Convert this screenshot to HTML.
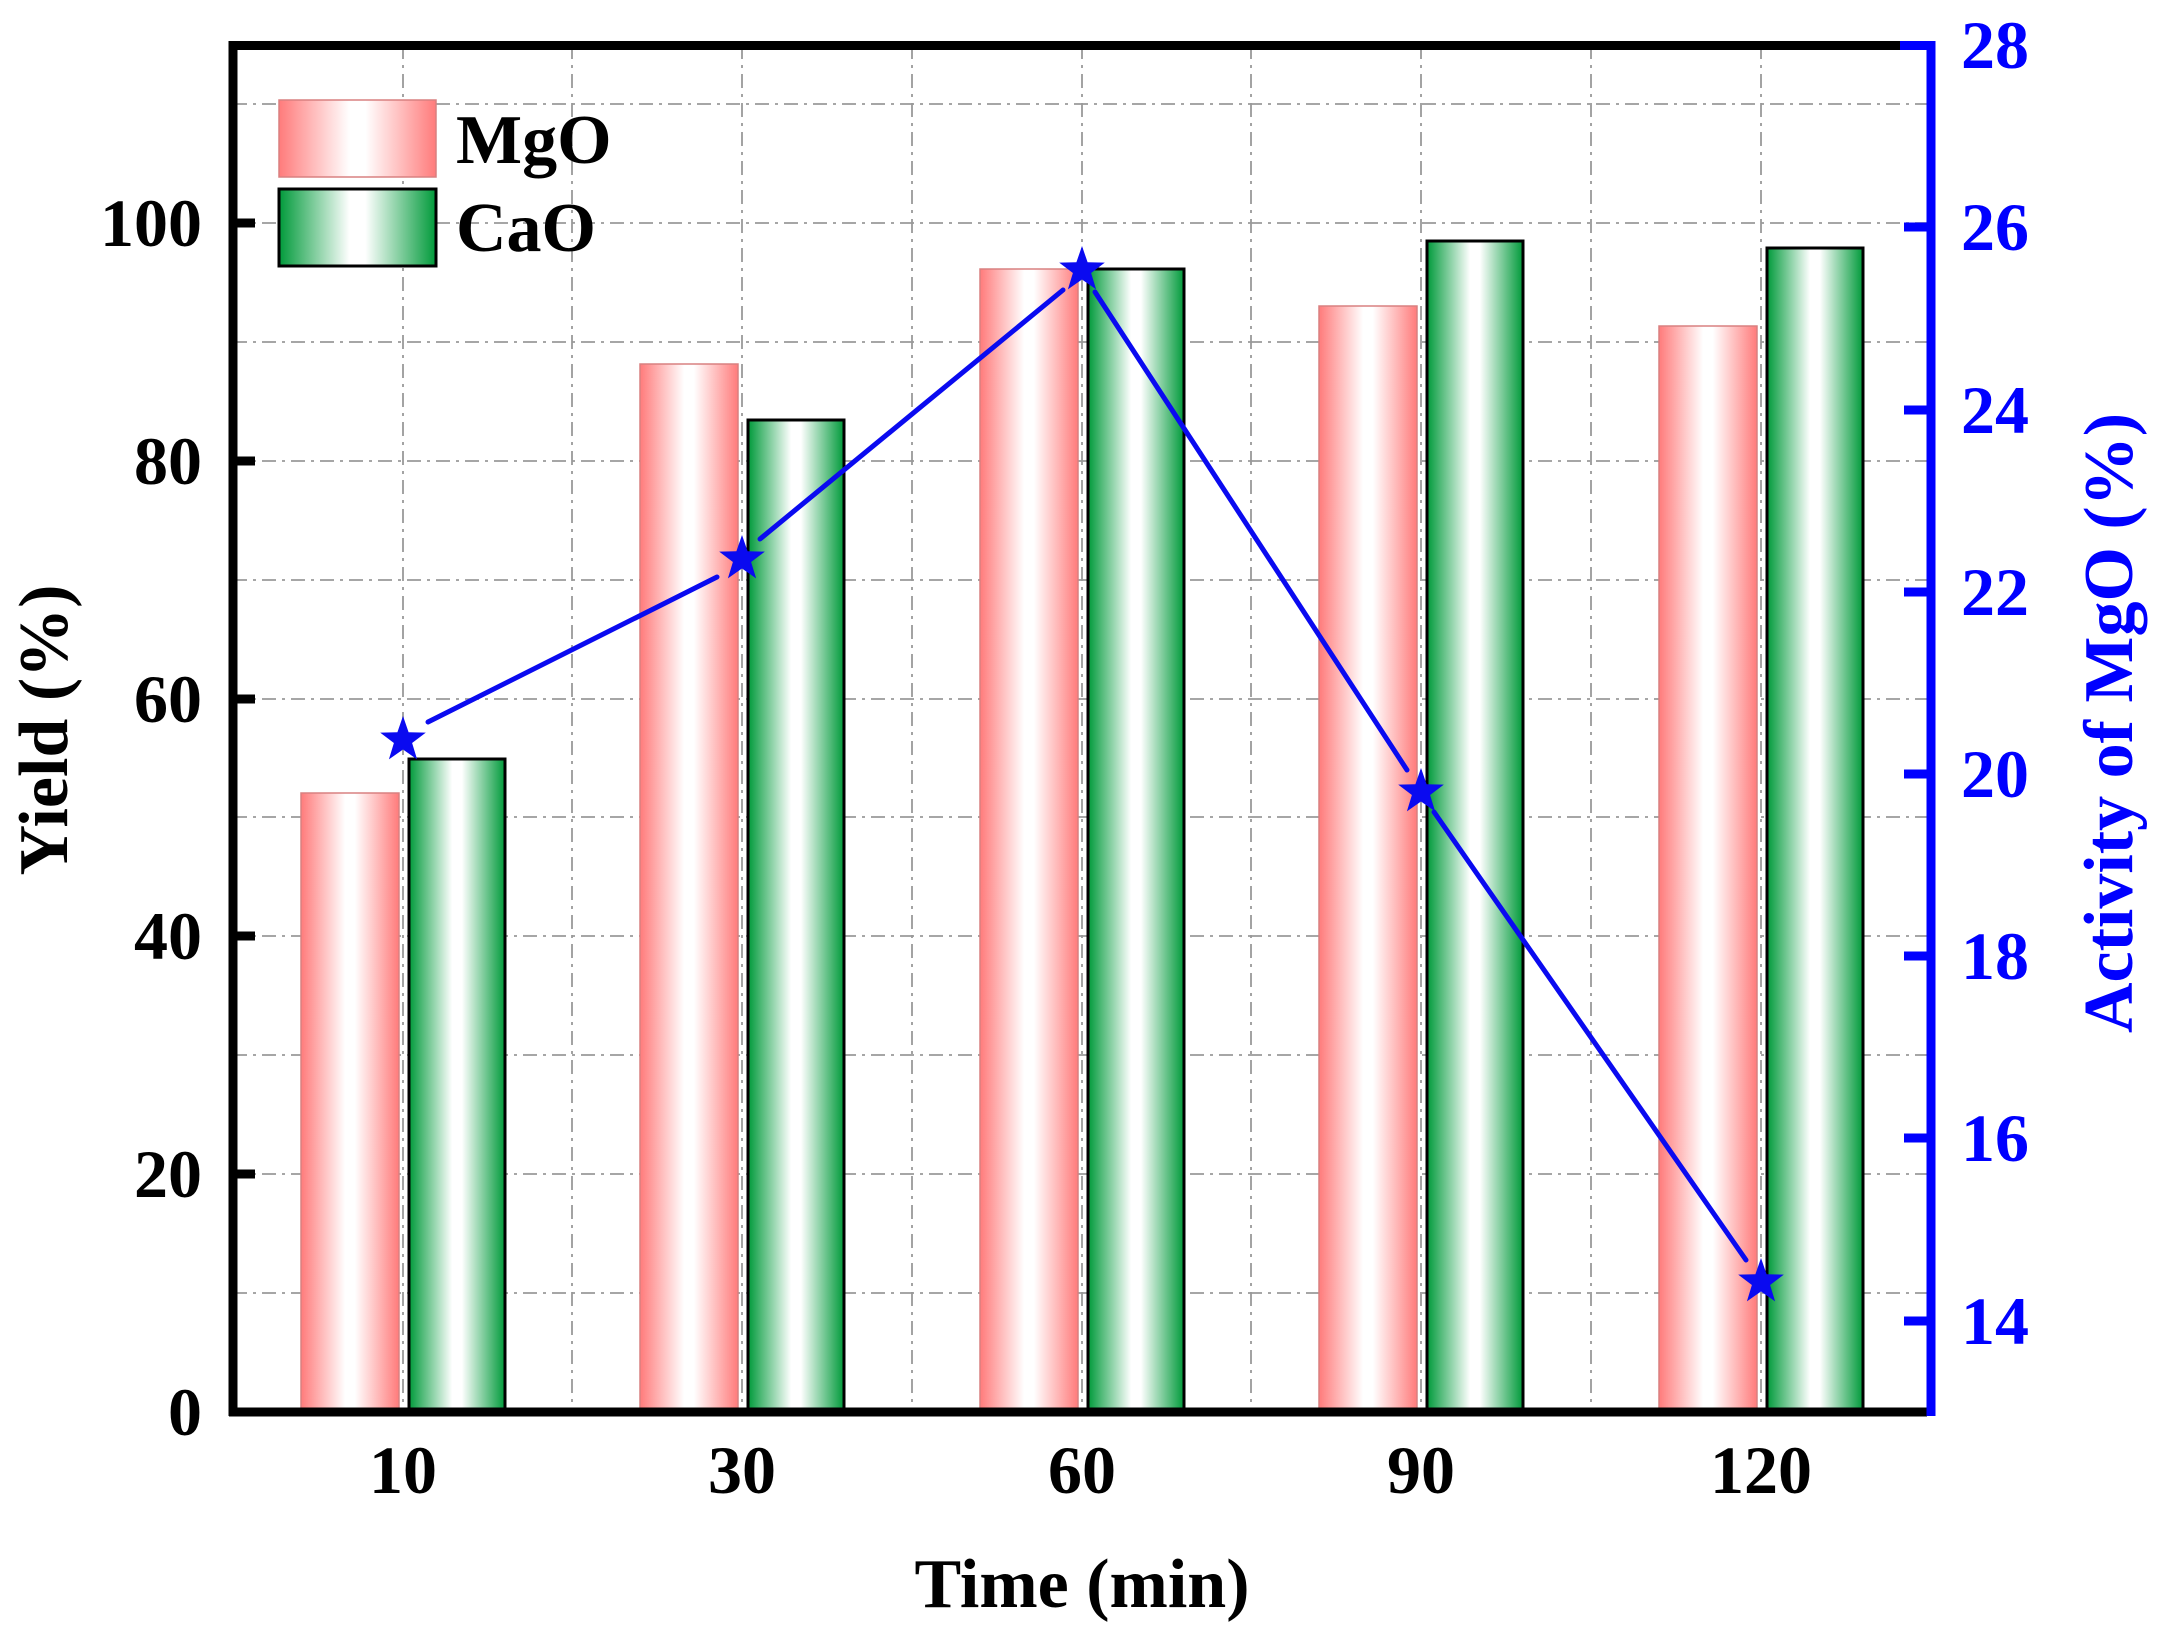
<!DOCTYPE html>
<html><head><meta charset="utf-8"><style>html,body{margin:0;padding:0;background:#fff}svg{display:block}</style></head>
<body>
<svg width="2160" height="1645" viewBox="0 0 2160 1645" xmlns="http://www.w3.org/2000/svg" font-family="Liberation Serif, serif" font-weight="bold">
<defs>
<linearGradient id="gr" x1="0" x2="1" y1="0" y2="0">
<stop offset="0" stop-color="#ff7b7b"/><stop offset="0.45" stop-color="#ffffff"/><stop offset="0.55" stop-color="#ffffff"/><stop offset="1" stop-color="#ff7b7b"/>
</linearGradient>
<linearGradient id="gg" x1="0" x2="1" y1="0" y2="0">
<stop offset="0" stop-color="#009a3a"/><stop offset="0.45" stop-color="#ffffff"/><stop offset="0.55" stop-color="#ffffff"/><stop offset="1" stop-color="#009a3a"/>
</linearGradient>
</defs>
<rect width="2160" height="1645" fill="#fff"/>
<g stroke="#999" stroke-width="1.8" stroke-dasharray="14,6,3,6" fill="none">
<path d="M233 1293H1931M233 1174H1931M233 1055H1931M233 936H1931M233 817H1931M233 699H1931M233 580H1931M233 461H1931M233 342H1931M233 223H1931M233 104H1931"/>
<path d="M403 45V1412M572 45V1412M742 45V1412M912 45V1412M1082 45V1412M1251 45V1412M1421 45V1412M1591 45V1412M1761 45V1412"/>
</g>
<g>
<rect x="301" y="793" width="98" height="619" fill="url(#gr)" stroke="#d98080" stroke-width="1.5"/>
<rect x="409" y="759" width="96" height="653" fill="url(#gg)" stroke="#000" stroke-width="3"/>
<rect x="640" y="364" width="98" height="1048" fill="url(#gr)" stroke="#d98080" stroke-width="1.5"/>
<rect x="748" y="420" width="96" height="992" fill="url(#gg)" stroke="#000" stroke-width="3"/>
<rect x="980" y="269" width="98" height="1143" fill="url(#gr)" stroke="#d98080" stroke-width="1.5"/>
<rect x="1088" y="269" width="96" height="1143" fill="url(#gg)" stroke="#000" stroke-width="3"/>
<rect x="1319" y="306" width="98" height="1106" fill="url(#gr)" stroke="#d98080" stroke-width="1.5"/>
<rect x="1427" y="241" width="96" height="1171" fill="url(#gg)" stroke="#000" stroke-width="3"/>
<rect x="1659" y="326" width="98" height="1086" fill="url(#gr)" stroke="#d98080" stroke-width="1.5"/>
<rect x="1767" y="248" width="96" height="1164" fill="url(#gg)" stroke="#000" stroke-width="3"/>
</g>
<g stroke="#0a0af0" stroke-width="5" stroke-linecap="round" fill="none">
<line x1="428" y1="722" x2="717" y2="577"/>
<line x1="760" y1="539" x2="1063" y2="290"/>
<line x1="1095" y1="292" x2="1407" y2="770"/>
<line x1="1434" y1="812" x2="1746" y2="1260"/>
</g>
<g fill="#0a0af0">
<polygon points="0,-24 5.6,-7.7 22.8,-7.4 9.1,3 14.1,19.4 0,9.5 -14.1,19.4 -9.1,3 -22.8,-7.4 -5.6,-7.7" transform="translate(403,740)"/>
<polygon points="0,-24 5.6,-7.7 22.8,-7.4 9.1,3 14.1,19.4 0,9.5 -14.1,19.4 -9.1,3 -22.8,-7.4 -5.6,-7.7" transform="translate(742,559)"/>
<polygon points="0,-24 5.6,-7.7 22.8,-7.4 9.1,3 14.1,19.4 0,9.5 -14.1,19.4 -9.1,3 -22.8,-7.4 -5.6,-7.7" transform="translate(1082,270)"/>
<polygon points="0,-24 5.6,-7.7 22.8,-7.4 9.1,3 14.1,19.4 0,9.5 -14.1,19.4 -9.1,3 -22.8,-7.4 -5.6,-7.7" transform="translate(1421,792)"/>
<polygon points="0,-24 5.6,-7.7 22.8,-7.4 9.1,3 14.1,19.4 0,9.5 -14.1,19.4 -9.1,3 -22.8,-7.4 -5.6,-7.7" transform="translate(1761,1282)"/>
</g>
<rect x="279" y="100" width="157" height="77" fill="url(#gr)" stroke="#d98080" stroke-width="1.5"/>
<rect x="279" y="189" width="157" height="77" fill="url(#gg)" stroke="#000" stroke-width="3"/>
<text x="456" y="163" font-size="70">MgO</text>
<text x="456" y="251" font-size="70">CaO</text>
<g stroke="#000" stroke-width="9" fill="none">
<path d="M229 45.5H1927M233 41V1416M229 1412H1927"/>
<path d="M233 1174H255M233 936H255M233 699H255M233 461H255M233 223H255"/>
</g>
<g stroke="#0000ff" stroke-width="9" fill="none">
<path d="M1931 41V1416M1900 45.5H1931M1904 227H1931M1904 410H1931M1904 592H1931M1904 774H1931M1904 956H1931M1904 1138H1931M1904 1321H1931"/>
</g>
<g font-size="68" text-anchor="end">
<text x="202" y="1435">0</text>
<text x="202" y="1197">20</text>
<text x="202" y="959">40</text>
<text x="202" y="722">60</text>
<text x="202" y="484">80</text>
<text x="202" y="246">100</text>
</g>
<g font-size="68" fill="#0000ff">
<text x="1961" y="68">28</text>
<text x="1961" y="250">26</text>
<text x="1961" y="433">24</text>
<text x="1961" y="615">22</text>
<text x="1961" y="797">20</text>
<text x="1961" y="979">18</text>
<text x="1961" y="1161">16</text>
<text x="1961" y="1344">14</text>
</g>
<g font-size="68" text-anchor="middle">
<text x="403" y="1493">10</text>
<text x="742" y="1493">30</text>
<text x="1082" y="1493">60</text>
<text x="1421" y="1493">90</text>
<text x="1761" y="1493">120</text>
</g>
<text x="1082" y="1607" font-size="70" text-anchor="middle">Time (min)</text>
<text transform="translate(67,730) rotate(-90)" font-size="70" text-anchor="middle">Yield (%)</text>
<text transform="translate(2132,723) rotate(-90)" font-size="70" text-anchor="middle" fill="#0000ff">Activity of MgO (%)</text>
</svg>
</body></html>
